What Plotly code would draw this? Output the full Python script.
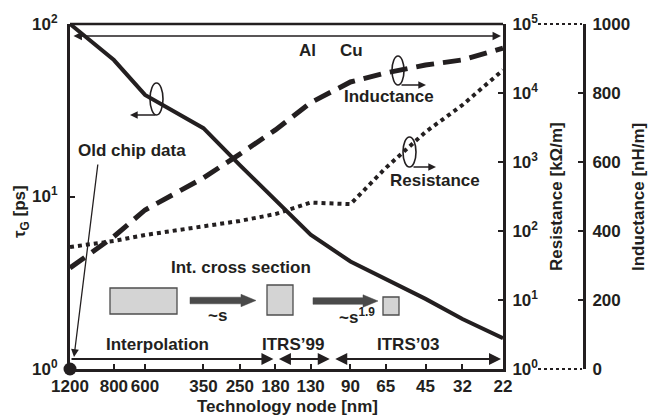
import math
import plotly.graph_objects as go

# ---------------- data ----------------
nodes = [1200, 800, 600, 350, 250, 180, 130, 90, 65, 45, 32, 22]
tau_g_ps = [100, 61.8, 38.8, 24.9, 15.2, 9.5, 6.0, 4.2, 3.3, 2.55, 1.95, 1.51]
resistance_kohm_m = [58.6, 71.6, 87.5, 118, 140, 176, 258, 245, 819, 2720, 6700, 21500]
inductance_nh_m = [293, 384, 461, 554, 623, 693, 772, 832, 858, 881, 896, 930]
old_chip_node = [1200]
old_chip_tau = [1]
al_cu_node = 107
phase_labels = ["Interpolation", "ITRS’99", "ITRS’03"]
phase_bounds = [1200, 180, 107, 22]
tau_ticks = [1, 10, 100]
res_ticks = [1, 10, 100, 1000, 10000, 100000]
ind_ticks = [0, 200, 400, 600, 800, 1000]

# ---------------- styling ----------------
W, H = 648, 416
INK = "#231f20"
FONT = "Arial, Liberation Sans, Helvetica, sans-serif"
BOLD = dict(family=FONT, size=17, color=INK, weight="bold")


def px(x):
    return x / W


def py(y):
    return 1 - y / H


def lg(v):
    return math.log10(v)


XDOM = [px(70), px(503)]
YDOM = [py(369), py(24)]

fig = go.Figure()
fig.add_trace(go.Scatter(x=nodes, y=tau_g_ps, yaxis="y", mode="lines",
                         line=dict(color=INK, width=4), cliponaxis=False,
                         name="tau_G"))
fig.add_trace(go.Scatter(x=nodes, y=resistance_kohm_m, yaxis="y2", mode="lines",
                         line=dict(color=INK, width=4, dash="4px,4px"),
                         cliponaxis=False, name="Resistance"))
fig.add_trace(go.Scatter(x=nodes, y=inductance_nh_m, yaxis="y3", mode="lines",
                         line=dict(color=INK, width=5, dash="18px,9px"),
                         cliponaxis=False, name="Inductance"))
fig.add_trace(go.Scatter(x=old_chip_node, y=old_chip_tau, yaxis="y", mode="markers",
                         marker=dict(color=INK, size=13), cliponaxis=False,
                         name="Old chip data"))


def sup_label(v):
    return "10<sup>%d</sup>" % round(math.log10(v))


axis_common = dict(showgrid=False, zeroline=False, showline=True, linewidth=3,
                   linecolor=INK, ticks="inside", ticklen=5, tickwidth=2,
                   tickcolor=INK, tickfont=BOLD, tickangle=0, automargin=False)

fig.update_layout(
    width=W, height=H, autosize=False,
    margin=dict(l=0, r=0, t=0, b=0, pad=0),
    paper_bgcolor="white", plot_bgcolor="white",
    showlegend=False,
    font=dict(family=FONT, color=INK),
    xaxis=dict(type="log", range=[lg(nodes[0]), lg(nodes[-1])], domain=XDOM,
               tickvals=nodes, ticktext=[str(n) for n in nodes], anchor="y",
               ticklabelstandoff=0, **axis_common),
    yaxis=dict(type="log", range=[0, 2], domain=YDOM, anchor="x",
               tickvals=tau_ticks, ticktext=[sup_label(v) for v in tau_ticks],
               ticklabelstandoff=6, **axis_common),
    yaxis2=dict(type="log", range=[0, 5], domain=YDOM, overlaying="y", side="right",
                anchor="x", tickvals=res_ticks,
                ticktext=[sup_label(v) for v in res_ticks],
                ticklabelstandoff=3, **axis_common),
    yaxis3=dict(type="linear", range=[0, 1000], domain=YDOM, overlaying="y",
                side="right", anchor="free", position=px(584), tickvals=ind_ticks,
                ticktext=[str(v) for v in ind_ticks], ticklabelstandoff=3,
                **axis_common),
)

shapes = []
annotations = []


def label(text, x, y, angle=0):
    annotations.append(dict(xref="paper", yref="paper", x=px(x), y=py(y), text=text,
                            textangle=angle, showarrow=False, font=BOLD,
                            xanchor="center", yanchor="middle"))


# top frame line
shapes.append(dict(type="line", xref="paper", yref="paper", x0=XDOM[0], x1=XDOM[1],
                   y0=YDOM[1], y1=YDOM[1], line=dict(color=INK, width=2.5)))
# dotted connectors between the two right-hand axes
for yy in (24, 369):
    shapes.append(dict(type="line", xref="paper", yref="paper", x0=px(538), x1=px(582),
                       y0=py(yy), y1=py(yy), line=dict(color=INK, width=2, dash="dot")))
# Al / Cu boundary
shapes.append(dict(type="line", xref="x", yref="paper", x0=lg(al_cu_node), x1=lg(al_cu_node),
                   y0=py(369), y1=py(36), line=dict(color=INK, width=1.3, dash="dot")))
shapes.append(dict(type="line", xref="x", yref="paper", x0=lg(al_cu_node), x1=lg(al_cu_node),
                   y0=py(27), y1=py(45), line=dict(color=INK, width=2)))

# top double arrow (full range)
annotations.append(dict(xref="x", yref="paper", x=lg(nodes[-1]), y=py(36), axref="x", ayref="pixel",
                        ax=lg(nodes[0]), ay=0, text="", showarrow=True, arrowhead=2,
                        startarrowhead=2, arrowside="end+start", arrowsize=1.3,
                        startarrowsize=1.3, arrowwidth=1.3, arrowcolor=INK,
                        standoff=2, startstandoff=2))

# bottom phase arrows
for i in range(3):
    a, b = phase_bounds[i], phase_bounds[i + 1]
    side = "end" if i == 0 else "end+start"
    annotations.append(dict(xref="x", yref="paper", x=lg(b), y=py(359), axref="x", ayref="pixel",
                            ax=lg(a), ay=0, text="", showarrow=True, arrowhead=2,
                            startarrowhead=2, arrowside=side, arrowsize=1.2,
                            startarrowsize=1.2, arrowwidth=2, arrowcolor=INK,
                            standoff=2, startstandoff=2 if i else 0))
for lab, xx in zip(phase_labels, [157, 293, 408]):
    label(lab, xx, 344)

# text labels
for t, xx, yy in [
    ("Al", 307, 50), ("Cu", 351, 50), ("Inductance", 389, 97), ("Resistance", 435, 180),
    ("Old chip data", 132, 151), ("Int. cross section", 241, 267),
    ("~s", 217, 315), ("~s<sup>1.9</sup>", 357, 316),
]:
    label(t, xx, yy)

# axis titles
label("τ<sub>G</sub> [ps]", 21, 212, -90)
label("Resistance [kΩ/m]", 556, 197, -90)
label("Inductance [nH/m]", 638, 197, -90)
label("Technology node [nm]", 287, 406)

# old chip data pointer
annotations.append(dict(xref="paper", yref="paper", x=px(74), y=py(357), ax=98 - 74, ay=163 - 357,
                        text="", showarrow=True, arrowhead=2, arrowsize=1.2, arrowwidth=1.3,
                        arrowcolor=INK))

# axis-assignment loops with arrows
loops = [
    ((150, 163, 83, 115), (157, 115), (130, 115)),
    ((392, 404, 56, 85), (400, 85), (426, 85)),
    ((403, 416, 137, 167), (412, 167), (436, 167)),
]
for (x0, x1, y0, y1), tail, head in loops:
    shapes.append(dict(type="circle", xref="paper", yref="paper", x0=px(x0), x1=px(x1),
                       y0=py(y1), y1=py(y0), line=dict(color=INK, width=1.6)))
    annotations.append(dict(xref="paper", yref="paper", x=px(head[0]), y=py(head[1]),
                            ax=tail[0] - head[0], ay=tail[1] - head[1], text="",
                            showarrow=True, arrowhead=2, arrowsize=1.1, arrowwidth=1.4,
                            arrowcolor=INK))

# interconnect cross sections
for x0, x1, y0, y1 in [(110, 177, 288, 314), (267, 293, 285, 315), (383, 399, 297, 315)]:
    shapes.append(dict(type="rect", xref="paper", yref="paper", x0=px(x0), x1=px(x1),
                       y0=py(y1), y1=py(y0), fillcolor="#d4d4d4",
                       line=dict(color="#4d4d4d", width=1.3)))


def block_arrow(x0, x1, yc, sh=3.3, hh=6.2, hl=15):
    pts = [(x0, yc - sh), (x1 - hl, yc - sh), (x1 - hl, yc - hh), (x1, yc),
           (x1 - hl, yc + hh), (x1 - hl, yc + sh), (x0, yc + sh)]
    return "M " + " L ".join("%.5f,%.5f" % (px(a), py(b)) for a, b in pts) + " Z"


for x0, x1, yc in [(190, 256, 300.5), (313, 378, 301)]:
    shapes.append(dict(type="path", xref="paper", yref="paper", path=block_arrow(x0, x1, yc),
                       fillcolor="#4a4a4a", line=dict(color="#4a4a4a", width=0.5)))

fig.update_layout(shapes=shapes, annotations=annotations)
fig.write_html("out.html")
